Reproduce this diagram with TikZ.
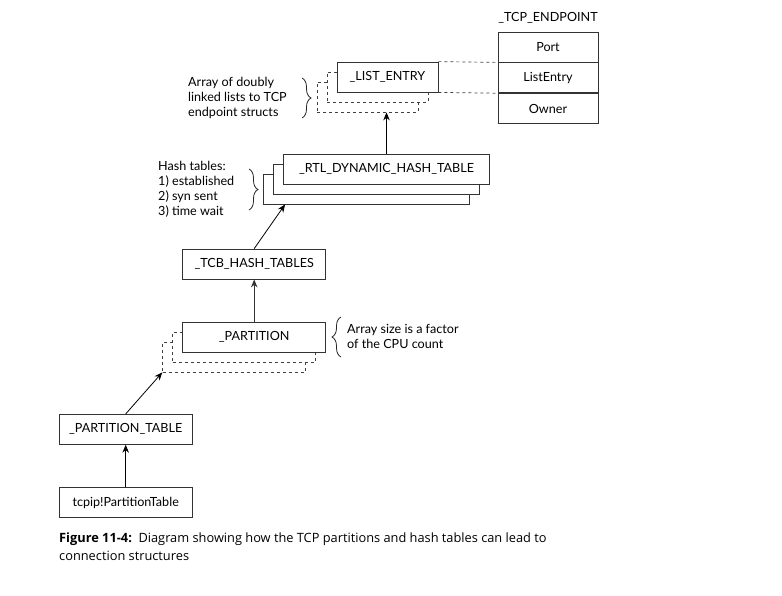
\documentclass[tikz,border=0pt]{standalone}
\usepackage{fontspec}
\setmainfont{Lato}
\newfontfamily\capfont{Open Sans}
\usetikzlibrary{positioning,arrows.meta,decorations.pathreplacing}
\tikzset{
    box/.style = {
        draw = black!80,
        fill = white,
        line width = 0.8pt,
        minimum height = 30pt,
        inner sep = 0pt,
        font = \fontsize{12.6}{15}\selectfont,
    },
    ghost/.style = {
        box,
        dashed,
        draw = black!75,
    },
    note/.style = {
        align = left,
        inner sep = 0pt,
        font = \fontsize{12.6}{15}\selectfont,
    },
    curly/.style = {
        draw = black!85,
        line width = 0.8pt,
        decorate,
        decoration = {brace, amplitude = 9pt},
    }
}

\begin{document}
\begin{tikzpicture}[x=1pt, y=-1pt, >={Stealth[length=8pt,width=6.5pt]}]
    \useasboundingbox (0,0) rectangle (782,595);

    % endpoint struct
    \node[note] (TcpEndpoint) at (548,18) {\_TCP\_ENDPOINT};
    \node[box, minimum width=100pt] (Port) at (548,47) {Port};
    \node[box, minimum width=100pt, below=0pt of Port] (ListEntryField) {ListEntry};
    \node[box, minimum width=100pt, below=0pt of ListEntryField] (Owner) {Owner};

    % list entries
    \node[ghost, minimum width=101pt] (LE2) at (367.5,97) {};
    \node[ghost, minimum width=101pt] (LE1) at (377.5,87) {};
    \node[box, minimum width=101pt] (LE) at (387.5,77) {\_LIST\_ENTRY};

    % hash tables
    \node[box, minimum width=206pt] (RTL2) at (366.5,189) {};
    \node[box, minimum width=206pt] (RTL1) at (376.5,179) {};
    \node[box, minimum width=206pt] (RTL) at (386.5,169) {\_RTL\_DYNAMIC\_HASH\_TABLE};

    \node[box, minimum width=143pt] (TCB) at (254.2,264) {\_TCB\_HASH\_TABLES};

    % partitions
    \node[ghost, minimum width=143pt] (Part2) at (234.2,357) {};
    \node[ghost, minimum width=143pt] (Part1) at (244.2,347) {};
    \node[box, minimum width=143pt] (Part) at (254.2,337) {\_PARTITION};

    \node[box, minimum width=133pt] (PartTable) at (125.7,429.3) {\_PARTITION\_TABLE};
    \node[box, minimum width=133pt] (PTGlobal) at (125.7,502.7) {tcpip!Partition\-Table};

    % notes
    \node[note, anchor=west] (ArrayNote) at (188,98) {Array of doubly\\linked lists to TCP\\endpoint structs};
    \node[note, anchor=west] (HashNote) at (158,189.5) {Hash tables:\\1) established\\2) syn sent\\3) time wait};
    \node[note, anchor=west] (CpuNote) at (347,336.5) {Array size is a factor\\of the CPU count};

    \draw[curly] (302,78) -- (302,118);
    \draw[curly] (249,169) -- (249,210);
    \draw[curly] (341,357) -- (341,317);

    % caption
    \node[anchor=north west, align=left, inner sep=0pt, font=\capfont\fontsize{12.8}{17.5}\selectfont] (Caption) at (59,533)
        {\textbf{Figure 11-4:}\ \ Diagram showing how the TCP partitions and hash tables can lead to\\connection structures};

    \draw[->,draw=black,line width=0.8pt] (PTGlobal) to (PartTable);
    \draw[->,draw=black,line width=0.8pt] (PartTable.north) to (Part2.south west);
    \draw[->,draw=black!80,line width=1pt] (Part) to (TCB);
    \draw[->,draw=black,line width=0.8pt] (TCB.north) to ([xshift=22pt]RTL2.south west);
    \draw[->,draw=black,line width=0.8pt] (RTL.north) to (RTL.north |- LE2.south);

    \draw[dashed,draw=black!75,line width=0.7pt] (LE.north east) to (Port.south west);
    \draw[dashed,draw=black!75,line width=0.7pt] (LE.south east) to (Owner.north west);
\end{tikzpicture}
\end{document}
